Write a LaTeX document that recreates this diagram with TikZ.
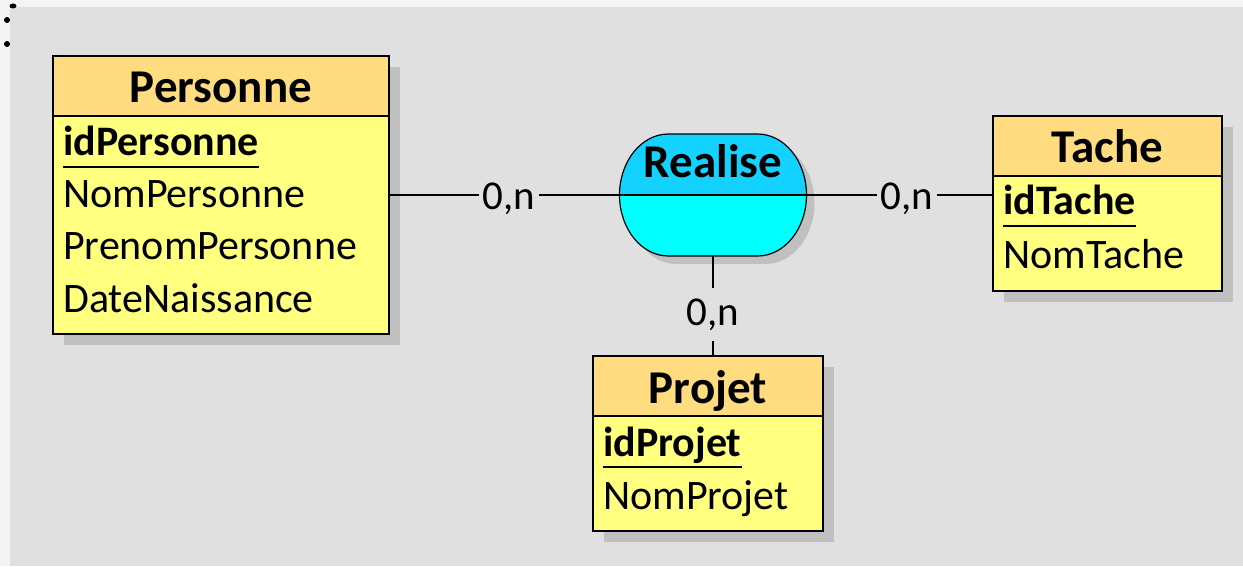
\documentclass[tikz,border=0pt]{standalone}
\usepackage{fontspec}
\setmainfont{Carlito}
\usetikzlibrary{shadows}

\definecolor{exterieur}{RGB}{244,244,244}
\definecolor{fond}{RGB}{224,224,224}
\definecolor{ombre}{RGB}{192,192,192}
\definecolor{orangeclair}{RGB}{255,220,128}
\definecolor{jauneclair}{RGB}{255,255,128}
\definecolor{cyanfonce}{RGB}{20,210,255}
\definecolor{cyanclair}{RGB}{0,255,255}

\begin{document}
\begin{tikzpicture}[x=1pt, y=1pt,
        ombree/.style={drop shadow={shadow xshift=11pt, shadow yshift=-11pt, fill=ombre, opacity=1}},
        entite/.style={draw=black, line width=1.6pt, fill=jauneclair, inner sep=0pt, outer sep=0pt, anchor=north west, ombree},
        entete/.style={draw=black, line width=1.6pt, fill=orangeclair, inner sep=0pt, outer sep=0pt, anchor=north,
            minimum height=60pt, text height=34pt, text depth=0pt, font=\fontsize{47}{56}\selectfont\bfseries},
        attr/.style={anchor=base west, inner sep=0pt, font=\fontsize{42}{50}\selectfont},
        cle/.style={attr, font=\fontsize{42}{50}\selectfont\bfseries},
        souligne/.style={line width=2pt},
        lien/.style={line width=1.6pt},
        card/.style={fill=fond, inner xsep=4pt, inner ysep=11pt, font=\fontsize{41}{49}\selectfont}]

        \useasboundingbox (0,0) rectangle (1243,566);
        \fill[exterieur] (0,0) rectangle (1243,566);
        \fill[fond] (10,0) rectangle (1243,559);
        \fill (13,560) ellipse [x radius=3.5pt, y radius=2.5pt];
        \fill (7,546) circle (3pt);
        \fill (7,522) circle (3pt);

        % entites
        \node[entite, minimum width=336pt, minimum height=278pt] (personne) at (53,510) {};
        \node[entete, minimum width=336pt] (personneT) at (personne.north) {Personne};
        \node[cle] (idPersonne) at ([shift={(10,-40)}]personneT.south west) {idPersonne};
        \node[attr] (nomPersonne) at ([yshift=-52pt]idPersonne.base west) {NomPersonne};
        \node[attr] (prenomPersonne) at ([yshift=-52pt]nomPersonne.base west) {PrenomPersonne};
        \node[attr] (dateNaissance) at ([yshift=-52pt]prenomPersonne.base west) {DateNaissance};
        \draw[souligne] ([yshift=-11pt]idPersonne.base west) -- ([yshift=-11pt]idPersonne.base east);

        \node[entite, minimum width=229pt, minimum height=175pt] (tache) at (993,450) {};
        \node[entete, minimum width=229pt] (tacheT) at (tache.north) {Tache};
        \node[cle] (idTache) at ([shift={(10,-39)}]tacheT.south west) {idTache};
        \node[attr] (nomTache) at ([yshift=-53pt]idTache.base west) {NomTache};
        \draw[souligne] ([yshift=-11pt]idTache.base west) -- ([yshift=-11pt]idTache.base east);

        \node[entite, minimum width=230pt, minimum height=175pt] (projet) at (593,210) {};
        \node[entete, minimum width=230pt] (projetT) at (projet.north) {Projet};
        \node[cle] (idProjet) at ([shift={(10,-40)}]projetT.south west) {idProjet};
        \node[attr] (nomProjet) at ([yshift=-53pt]idProjet.base west) {NomProjet};
        \draw[souligne] ([yshift=-11pt]idProjet.base west) -- ([yshift=-11pt]idProjet.base east);

        % association
        \node[minimum width=187pt, minimum height=122pt, inner sep=0pt, outer sep=0pt] (realise) at (713,371) {};
        \path[draw=black, line width=1.2pt, fill=cyanclair,
                drop shadow={shadow xshift=8pt, shadow yshift=-8pt, fill=ombre, opacity=1},
                path picture={\fill[cyanfonce] (realise.west) rectangle (realise.north east);}]
            ([xshift=-44.5pt]realise.north) -- ([xshift=44.5pt]realise.north)
            arc[start angle=90, end angle=-90, x radius=49pt, y radius=61pt]
            -- ([xshift=-44.5pt]realise.south)
            arc[start angle=270, end angle=90, x radius=49pt, y radius=61pt] -- cycle;
        \draw[line width=1.2pt] (realise.west) -- (realise.east);
        \node[anchor=base, inner sep=0pt, font=\fontsize{47}{56}\selectfont\bfseries] (realiseT)
            at ([yshift=17pt]realise.center) {Realise};

        % liens
        \draw[lien] (personne.east |- realise.west) -- node[card, pos=0.52, yshift=-3.5pt] {0,n} (realise.west);
        \draw[lien] (realise.east) -- node[card, pos=0.54, yshift=-3.5pt] {0,n} (realise.east -| tache.west);
        \draw[lien] (realise.south) -- node[card, pos=0.585] {0,n} (realise.south |- projet.north);
    \end{tikzpicture}
\end{document}
